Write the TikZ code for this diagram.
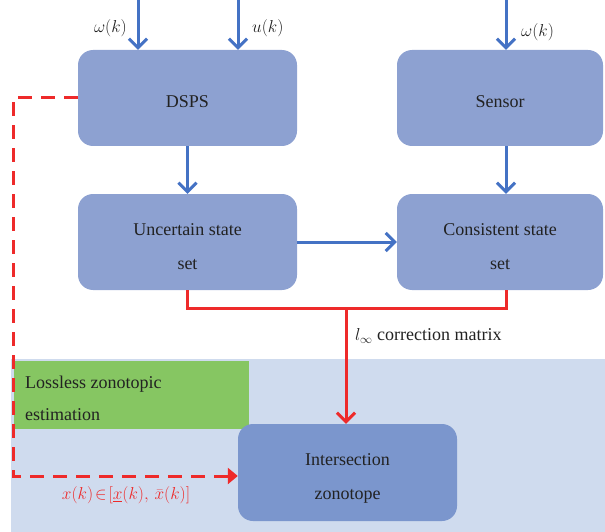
\documentclass[tikz,border=0pt]{standalone}
\usepackage{fontspec}
\setmainfont{Liberation Serif}
\usetikzlibrary{arrows.meta}
\definecolor{boxblue}{HTML}{8DA1D1}
\definecolor{boxdark}{HTML}{7B96CD}
\definecolor{arrblue}{HTML}{4472C4}
\definecolor{redline}{HTML}{EE2A2A}
\definecolor{bgblue}{HTML}{CFDBEE}
\definecolor{greenbox}{HTML}{86C662}
\definecolor{txt}{HTML}{222222}
\tikzset{
  block/.style={rectangle, rounded corners=15pt, fill=boxblue, draw=none,
    minimum width=219pt, minimum height=96pt},
  blocktext/.style={align=center, text=txt, inner sep=0pt, yshift=-5pt,
    font=\fontsize{18}{34}\selectfont},
  bluearr/.style={draw=arrblue, line width=3pt,
    -{Straight Barb[length=9pt,width=18pt,line width=3pt]}},
  redarr/.style={draw=redline, line width=3pt,
    -{Straight Barb[length=9pt,width=18pt,line width=3pt]}},
  redln/.style={draw=redline, line width=3pt},
  reddash/.style={draw=redline, line width=3pt, dash pattern=on 14pt off 9pt,
    -{Triangle[length=10pt,width=16pt]}},
  lbl/.style={font=\fontsize{18}{22}\selectfont, text=txt, inner sep=0pt},
}
\begin{document}
\begin{tikzpicture}[x=1pt, y=-1pt]
\useasboundingbox (0,0) rectangle (605,532);
% shaded lower region and its green caption
\fill[bgblue] (11,359) rectangle (605,532);
\fill[greenbox] (14,361) rectangle (249,429);
\node[lbl, anchor=north west, align=left, font=\fontsize{18}{32}\selectfont]
  (cap) at (25,376) {Lossless zonotopic\\estimation};

% blocks
\node[block, label={[blocktext, yshift=1pt]center:DSPS}] (dsps) at (187.5,98) {};
\node[block, minimum width=206pt, label={[blocktext, yshift=1pt]center:Sensor}] (sens) at (500,98) {};
\node[block, label={[blocktext]center:{Uncertain state\\set}}] (unc) at (187.5,242) {};
\node[block, minimum width=206pt, label={[blocktext]center:{Consistent state\\set}}] (cons) at (500,242) {};
\node[block, fill=boxdark, minimum height=97pt,
  label={[blocktext, yshift=-1pt]center:{Intersection\\zonotope}}] (isect) at (347.5,472.5) {};

% inputs
\coordinate (w1) at (138,0);
\coordinate (u1) at (238,0);
\coordinate (w2) at (506,0);
\draw[bluearr] (w1) -- (w1 |- dsps.north);
\draw[bluearr] (u1) -- (u1 |- dsps.north);
\draw[bluearr] (w2) -- (w2 |- sens.north);
\node[lbl, anchor=east] (lw1) at (127,28) {$\omega(k)$};
\node[lbl, anchor=west] (lu1) at (252,28) {$u(k)$};
\node[lbl, anchor=west] (lw2) at (521,32) {$\omega(k)$};

% internal flow
\draw[bluearr] (dsps.south) -- (unc.north);
\draw[bluearr] (sens.south -| w2) -- (cons.north -| w2);
\draw[bluearr] (unc.east) -- (cons.west);

% merge into the intersection
\coordinate (mj) at (346,308);
\draw[redln] (unc.south) |- (mj) -| (cons.south -| w2);
\draw[redarr] (mj) -- (mj |- isect.north);
\node[lbl, anchor=west] (lcm) at (355,336) {$l_{\infty}$ correction matrix};

% feedback of the interval estimate
\coordinate (fb) at (13,98);
\draw[reddash] (dsps.west) -- (fb) |- ([yshift=-3.5pt]isect.west);
\node[lbl, text=redline] (lx) at (126,495)
  {$x(k)\!\in\![\underline{x}(k),\,\bar{x}(k)]$};
\end{tikzpicture}
\end{document}
